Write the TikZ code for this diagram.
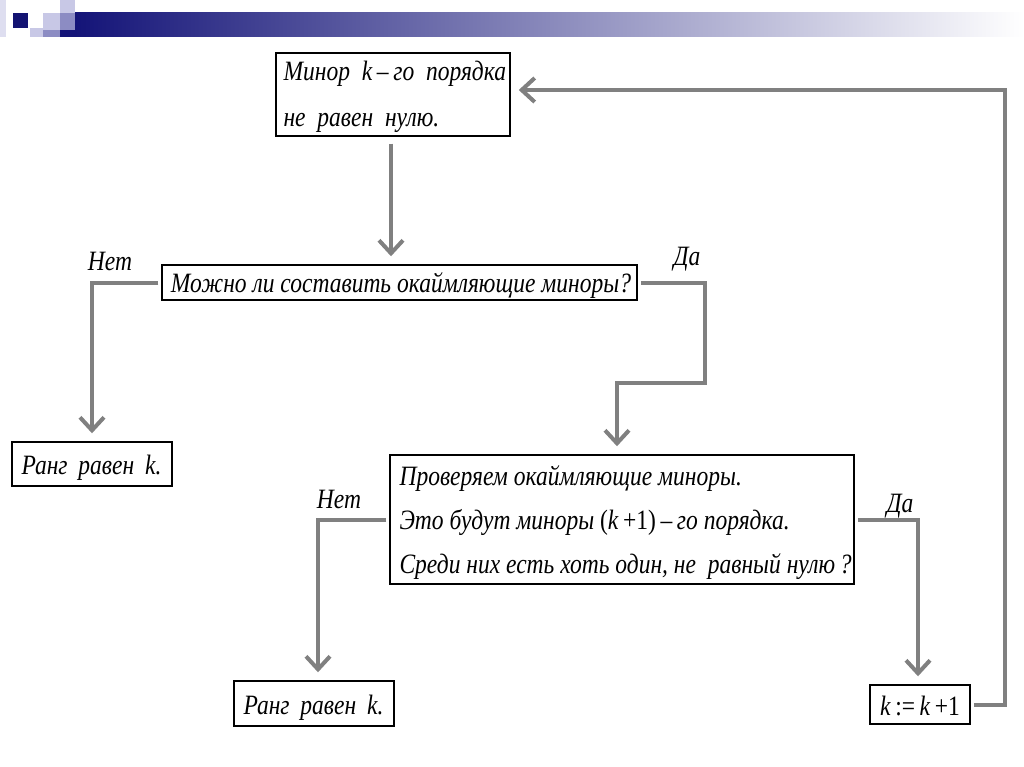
\documentclass[tikz,border=0pt]{standalone}
\usepackage{fontspec}
\setmainfont{Liberation Serif}[FakeStretch=0.84]
\usetikzlibrary{arrows.meta}
\definecolor{navy}{RGB}{20,20,120}
\definecolor{lav}{RGB}{200,200,230}
\definecolor{midlav}{RGB}{140,140,195}
\definecolor{arrgray}{RGB}{128,128,128}
\newcommand{\kk}{\textit{k}}
\newcommand{\up}[1]{{\upshape #1}}
\tikzset{
  box/.style={draw=black, line width=1.5pt, inner sep=0pt, fill=white},
  txt/.style={font=\fontsize{28}{44}\selectfont\itshape},
  lbl/.style={font=\fontsize{28}{30}\selectfont\itshape, inner sep=0pt},
  arr/.style={draw=arrgray, line width=4pt, -{Straight Barb[length=13pt,width=24pt,line width=4pt]}, shorten <=3pt, shorten >=8pt}
}
\begin{document}
\begin{tikzpicture}[x=1pt,y=-1pt]
\useasboundingbox (0,0) rectangle (1024,767);
\fill[white] (0,0) rectangle (1024,767);
% header decoration
\fill[lav!60] (0,0) rectangle (6,37);
\shade[left color=navy, right color=white] (75,13) rectangle (1024,37);
\fill[lav] (60,0) rectangle (75,13);
\fill[lav] (43,13) rectangle (60,30);
\fill[midlav] (60,13) rectangle (75,30);
\fill[navy] (60,30) rectangle (75,37);
\fill[lav] (30,28) rectangle (43,37);
\fill[midlav] (43,30) rectangle (60,37);
\fill[navy!95!black] (13,13) rectangle (28,28);

% boxes
\node[box, minimum width=234pt, minimum height=83pt] (b1) at (393,94.5) {};
\node[txt, anchor=base west] (t1a) at (280,81) {Минор\ \ \kk\,–\,го\ \ порядка};
\node[txt, anchor=base west] (t1b) at (280,127) {не\ \ равен\ \ нулю.};

\node[box, minimum width=475pt, minimum height=35pt] (b2) at (399.5,282.5) {};
\node[txt, anchor=base] (t2) at (401,292) {Можно ли составить окаймляющие миноры?};

\node[box, minimum width=160pt, minimum height=44pt] (b3) at (92,464) {};
\node[txt, anchor=base west] (t3) at (18,474) {Ранг\hspace{5pt} равен\hspace{5pt} \kk.};

\node[box, minimum width=464pt, minimum height=129pt] (b4) at (622,519.5) {};
\node[txt, anchor=base west] (t4a) at (396,485) {Проверяем окаймляющие миноры.};
\node[txt, anchor=base west] (t4b) at (396,529) {Это будут миноры \up{(}\kk\,\up{+1)}\,–\,го порядка.};
\node[txt, anchor=base west] (t4c) at (396,573) {Среди них есть хоть один, не\ \ равный нулю\,?};

\node[box, minimum width=160pt, minimum height=45pt] (b5) at (314,703.5) {};
\node[txt, anchor=base west] (t5) at (240,714) {Ранг\hspace{5pt} равен\hspace{5pt} \kk.};

\node[box, minimum width=100pt, minimum height=39pt] (b6) at (920,704.5) {};
\node[txt, anchor=base] (t6) at (920,715) {\kk\,\up{:=}\,\kk\,\up{+1}};

% labels
\node[lbl] (n1) at (110,261) {Нет};
\node[lbl] (d1) at (687,259) {Да};
\node[lbl] (n2) at (339,499) {Нет};
\node[lbl] (d2) at (900,506) {Да};

% connectors
\coordinate (c1) at (705,383);
\coordinate (c2) at (1005,90);
\draw[arr, shorten <=7pt] ([xshift=-2pt]b1.south) -- ([xshift=-2pt]b1.south |- b2.north);
\draw[arr] (b2.west) -| (b3.north);
\draw[arr] (b2.east) -| (c1) -| ([xshift=-5pt]b4.north);
\draw[arr] (b4.west) -| ([xshift=4pt]b5.north);
\draw[arr] (b4.east) -| ([xshift=-2pt]b6.north);
\draw[arr] (b6.east) -| (c2) -- (b1.east |- c2);
\end{tikzpicture}
\end{document}
